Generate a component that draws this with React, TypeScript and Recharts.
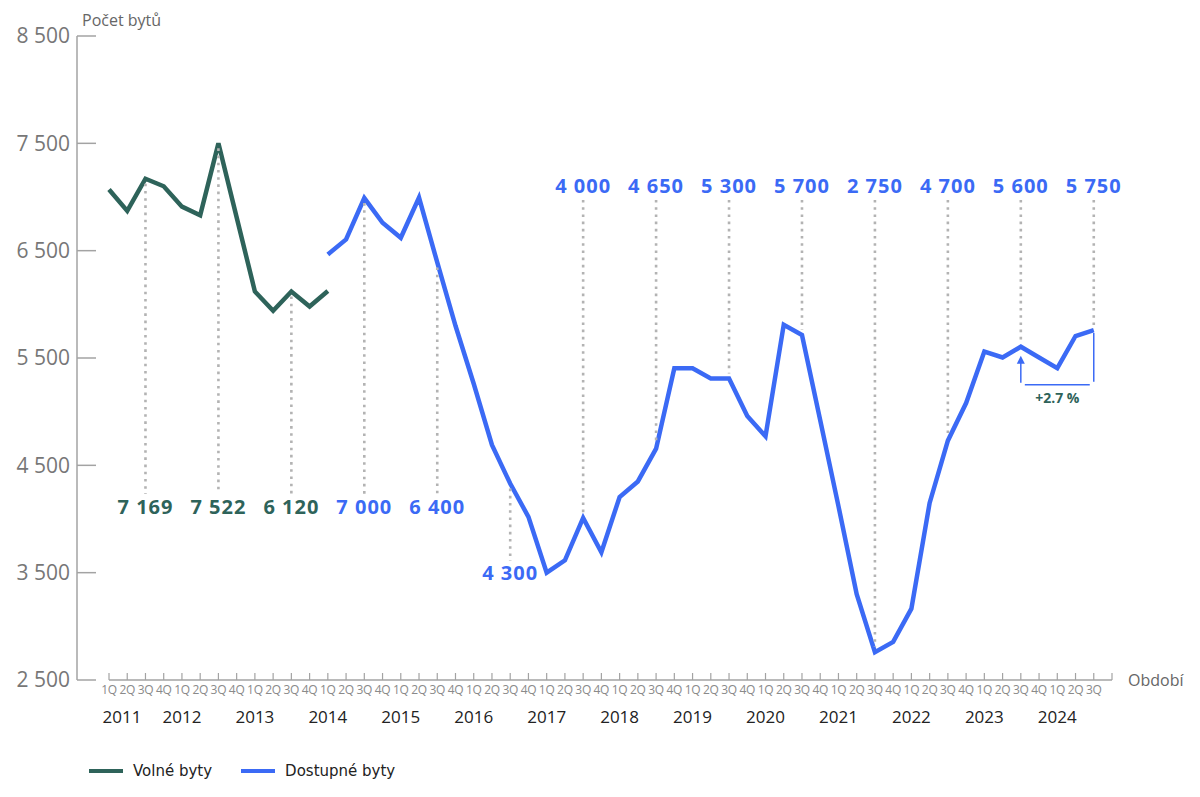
import { LineChart, Line, XAxis, YAxis, ReferenceLine, LabelList } from 'recharts';

const years = [2011, 2012, 2013, 2014, 2015, 2016, 2017, 2018, 2019, 2020, 2021, 2022, 2023, 2024];
const quarterNames = ['1Q', '2Q', '3Q', '4Q'];
const yTicks = [2500, 3500, 4500, 5500, 6500, 7500, 8500];

// Volné byty, 1Q 2011 – 1Q 2014
const volneByty = [7070, 6870, 7170, 7100, 6910, 6830, 7500, 6810, 6120, 5940, 6120, 5980, 6125];
// Dostupné byty, 1Q 2014 – 3Q 2024
const dostupneByty = [
  6465, 6605, 6990, 6760, 6620, 6995, 6390, 5800, 5260, 4690, 4330, 4020,
  3500, 3615, 4010, 3690, 4205, 4350, 4655, 5405, 5405, 5310, 5310, 4960,
  4770, 5810, 5715, 4920, 4120, 3300, 2760, 2855, 3165, 4150, 4730, 5080,
  5560, 5505, 5605, 5505, 5405, 5705, 5760,
];
// hodnoty ve 3Q každého roku
const volneNotes = ['7 169', '7 522', '6 120'];
const dostupneNotes = ['7 000', '6 400', '4 300', '4 000', '4 650', '5 300', '5 700', '2 750', '4 700', '5 600', '5 750'];
const changeLabel = '+2.7 %';

const GREEN = '#2e635a';
const BLUE = '#3b6af5';
const AXIS = '#a3a3a3';
const DOTS = '#b3b3b3';
const FONT = "'Open Sans', sans-serif";

const LABEL_TOP = 193;
const LABEL_BELOW = 514;
const LABEL_UNDER = 580;

const periods = years.flatMap((year) => quarterNames.map((q) => ({ year, q })));
const blueStart = periods.findIndex((p) => p.year === 2014 && p.q === '1Q');

let gN = 0;
let bN = 0;
const data = periods.map((p, i) => {
  const volne = i < volneByty.length ? volneByty[i] : null;
  const bi = i - blueStart;
  const dostupne = bi >= 0 && bi < dostupneByty.length ? dostupneByty[bi] : null;
  const is3Q = p.q === '3Q';
  return {
    period: `${p.year} ${p.q}`,
    year: p.year,
    quarter: p.q,
    volne,
    dostupne,
    volneNote: is3Q && volne != null ? volneNotes[gN++] : null,
    dostupneNote: is3Q && dostupne != null ? dostupneNotes[bN++] : null,
  };
});

const changeFrom = data.findIndex((d) => d.period === '2023 3Q');
const changeTo = data.findIndex((d) => d.period === '2024 3Q');

const fmt = (v: number) => `${Math.floor(v / 1000)} ${String(v % 1000).padStart(3, '0')}`;

const YTick = ({ x, y, payload }: any) => (
  <g>
    <line x1={x} x2={x + 19} y1={y} y2={y} stroke={AXIS} strokeWidth={1.5} />
    <text x={x - 7} y={y} dy="0.35em" textAnchor="end" fontSize={21} fill="#777" fontFamily={FONT}>
      {fmt(payload.value)}
    </text>
  </g>
);

const XTick = ({ x, y, payload, index }: any) => {
  const row = data[payload?.index ?? index];
  if (!row) return null;
  const hasData = row.volne != null || row.dostupne != null;
  return (
    <g>
      <line x1={x} x2={x} y1={y} y2={y - 7} stroke={AXIS} strokeWidth={1.2} />
      {hasData && (
        <text x={x} y={y + 14} textAnchor="middle" fontSize={12} fill="#8a8a8a" fontFamily={FONT} letterSpacing={-0.3}>
          {row.quarter}
        </text>
      )}
      {hasData && row.quarter === '1Q' && (
        <text x={x + (row.year === years[0] ? 13 : 0)} y={y + 43} textAnchor="middle" fontSize={17} fill="#222" fontFamily={FONT}>
          {row.year}
        </text>
      )}
    </g>
  );
};

const renderNote = (color: string) => (props: any) => {
  const { value, index } = props;
  const x = props.x ?? props.viewBox?.x;
  const y = props.y ?? props.viewBox?.y;
  if (value == null || x == null || y == null) return null;
  const year = data[index]?.year ?? 0;
  let textY = LABEL_TOP;
  let y1 = 200;
  let y2 = y - 5;
  if (year <= 2015) {
    textY = LABEL_BELOW;
    y1 = y + 5;
    y2 = 494;
  } else if (year === 2016) {
    textY = LABEL_UNDER;
    y1 = y + 5;
    y2 = 561;
  }
  return (
    <g key={`note-${index}`}>
      <line x1={x} x2={x} y1={y1} y2={y2} stroke={DOTS} strokeWidth={2.6} strokeDasharray="2.6 4.6" />
      <text x={x} y={textY} textAnchor="middle" fontSize={20} fontWeight={700} fill={color} fontFamily={FONT} letterSpacing={1}>
        {value}
      </text>
    </g>
  );
};

const dotPos: Record<number, { x: number; y: number }> = {};
const renderChangeDot = (props: any) => {
  const { cx, cy, index } = props;
  const key = `dot-${index}`;
  if (cy == null) return <g key={key} />;
  dotPos[index] = { x: cx, y: cy };
  const from = dotPos[changeFrom];
  if (index !== changeTo || !from) return <g key={key} />;
  const bottom = Math.max(from.y, cy) + 38;
  return (
    <g key={key}>
      <line x1={cx} x2={cx} y1={cy + 3} y2={bottom - 3} stroke={BLUE} strokeWidth={1.5} />
      <line x1={from.x + 4} x2={cx - 4} y1={bottom} y2={bottom} stroke={BLUE} strokeWidth={1.5} />
      <line x1={from.x} x2={from.x} y1={bottom - 2} y2={from.y + 16} stroke={BLUE} strokeWidth={1.5} />
      <polygon points={`${from.x - 4},${from.y + 17} ${from.x + 4},${from.y + 17} ${from.x},${from.y + 9}`} fill={BLUE} />
      <text x={(from.x + cx) / 2} y={bottom + 18} textAnchor="middle" fontSize={14} fontWeight={700} fill={GREEN} fontFamily={FONT}>
        {changeLabel}
      </text>
    </g>
  );
};

const YLabel = (props: any) => {
  const vb = props.viewBox ?? { x: 0, y: 36, width: 77 };
  return (
    <text x={vb.x + vb.width + 5} y={vb.y - 16} dy="0.35em" fontSize={16} fill="#666" fontFamily={FONT}>
      Počet bytů
    </text>
  );
};

const XLabel = (props: any) => {
  const vb = props.viewBox ?? { x: 77, y: 680, width: 1035 };
  return (
    <text x={vb.x + vb.width + 16} y={vb.y} dy="0.35em" fontSize={16} fill="#666" fontFamily={FONT}>
      Období
    </text>
  );
};

const legendItems = [
  { name: 'Volné byty', color: GREEN },
  { name: 'Dostupné byty', color: BLUE },
];

export default function App() {
  const first = data[0].period;
  const last = data[data.length - 1].period;
  return (
    <div style={{ position: 'absolute', left: 0, top: 0, width: 1200, height: 797, background: '#fff' }}>
      <LineChart width={1200} height={797} data={data} margin={{ top: 36, right: 88, bottom: 57, left: 0 }}>
        <XAxis
          dataKey="period"
          type="category"
          interval={0}
          tickLine={false}
          axisLine={false}
          tickSize={0}
          tickMargin={0}
          height={60}
          padding={{ left: 32, right: 0 }}
          tick={<XTick />}
          label={{ content: <XLabel /> }}
        />
        <YAxis
          type="number"
          domain={[2500, 8500]}
          ticks={yTicks}
          interval={0}
          width={77}
          tickLine={false}
          tickSize={0}
          tickMargin={0}
          axisLine={{ stroke: AXIS, strokeWidth: 1.5 }}
          tick={<YTick />}
          label={{ content: <YLabel /> }}
        />
        <ReferenceLine
          segment={[{ x: first, y: 2500 }, { x: last, y: 2500 }]}
          ifOverflow="visible"
          stroke={AXIS}
          strokeWidth={1.5}
        />
        <Line
          type="linear"
          dataKey="volne"
          stroke={GREEN}
          strokeWidth={4.5}
          dot={false}
          activeDot={false}
          isAnimationActive={false}
        >
          <LabelList dataKey="volneNote" content={renderNote(GREEN)} />
        </Line>
        <Line
          type="linear"
          dataKey="dostupne"
          stroke={BLUE}
          strokeWidth={4.5}
          dot={renderChangeDot}
          activeDot={false}
          isAnimationActive={false}
        >
          <LabelList dataKey="dostupneNote" content={renderNote(BLUE)} />
        </Line>
      </LineChart>
      <div
        style={{
          position: 'absolute',
          left: 89,
          top: 762,
          display: 'flex',
          alignItems: 'center',
          fontFamily: "'DejaVu Sans', sans-serif",
          fontSize: 15,
          color: '#222',
        }}
      >
        {legendItems.map((item) => (
          <div key={item.name} style={{ display: 'flex', alignItems: 'center', marginRight: 29 }}>
            <div style={{ width: 34, height: 4.5, background: item.color, marginRight: 10 }} />
            <span>{item.name}</span>
          </div>
        ))}
      </div>
    </div>
  );
}
